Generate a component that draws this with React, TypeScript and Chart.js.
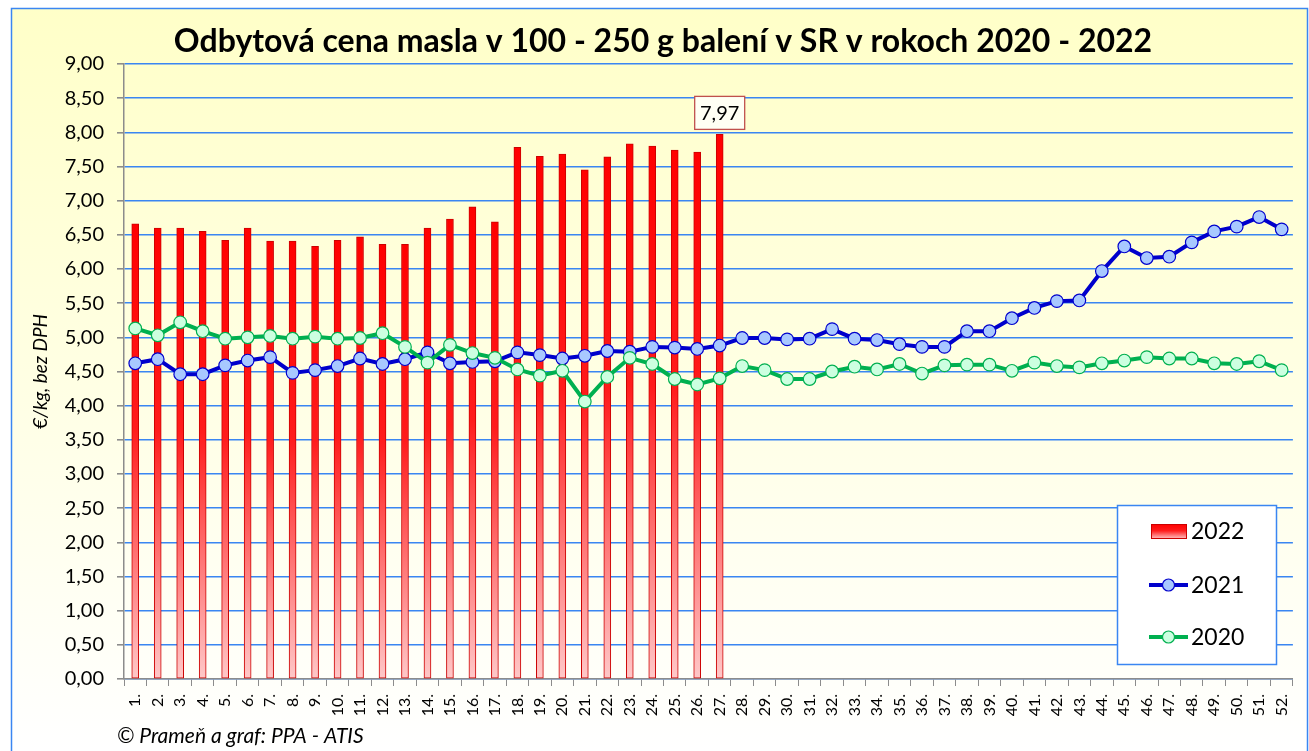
import React, { useEffect, useRef } from 'react';
import { Chart, registerables } from 'chart.js';

Chart.register(...registerables);

const TITLE = 'Odbytová cena masla v 100 - 250 g balení v SR v rokoch 2020 - 2022';
const Y_TITLE = '€/kg, bez DPH';
const FOOTER = '© Prameň a graf: PPA - ATIS';

const weeks = [
  '1.', '2.', '3.', '4.', '5.', '6.', '7.', '8.', '9.', '10.', '11.', '12.', '13.',
  '14.', '15.', '16.', '17.', '18.', '19.', '20.', '21.', '22.', '23.', '24.', '25.', '26.',
  '27.', '28.', '29.', '30.', '31.', '32.', '33.', '34.', '35.', '36.', '37.', '38.', '39.',
  '40.', '41.', '42.', '43.', '44.', '45.', '46.', '47.', '48.', '49.', '50.', '51.', '52.',
];

const prices2022 = [
  6.66, 6.6, 6.6, 6.55, 6.42, 6.6, 6.41, 6.41, 6.33, 6.42, 6.47, 6.36, 6.36,
  6.6, 6.73, 6.91, 6.69, 7.78, 7.65, 7.68, 7.45, 7.64, 7.83, 7.8, 7.74, 7.71, 7.97,
];

const prices2021 = [
  4.62, 4.68, 4.46, 4.46, 4.59, 4.66, 4.71, 4.48, 4.52, 4.58, 4.69, 4.61, 4.68,
  4.78, 4.62, 4.64, 4.65, 4.78, 4.74, 4.69, 4.73, 4.8, 4.79, 4.86, 4.85, 4.83, 4.88,
  4.99, 4.99, 4.97, 4.98, 5.12, 4.98, 4.96, 4.9, 4.86, 4.86, 5.09, 5.09, 5.28,
  5.43, 5.53, 5.54, 5.97, 6.33, 6.16, 6.18, 6.39, 6.55, 6.62, 6.76, 6.58,
];

const prices2020 = [
  5.13, 5.03, 5.22, 5.09, 4.98, 5.0, 5.02, 4.98, 5.01, 4.98, 4.99, 5.06, 4.86,
  4.63, 4.89, 4.77, 4.7, 4.53, 4.44, 4.51, 4.06, 4.42, 4.7, 4.61, 4.39, 4.31, 4.4,
  4.58, 4.52, 4.39, 4.39, 4.5, 4.57, 4.53, 4.61, 4.47, 4.59, 4.6, 4.6, 4.51,
  4.63, 4.58, 4.56, 4.62, 4.66, 4.71, 4.69, 4.69, 4.62, 4.61, 4.65, 4.52,
];

const seriesNames = ['2022', '2021', '2020'];
const highlightIndex = 26;

const FONT = 'Lato';
const GRID_BLUE = '#3a86f2';

const fmt = (v: number) => v.toFixed(2).replace('.', ',');

function barGradient(ctx: CanvasRenderingContext2D, top: number, bottom: number) {
  const g = ctx.createLinearGradient(0, top, 0, bottom);
  g.addColorStop(0, '#ff0000');
  g.addColorStop(0.45, '#ff1c1c');
  g.addColorStop(1, '#ffc8c8');
  return g;
}

const decorPlugin = {
  id: 'decor',
  beforeDraw(chart: any) {
    const { ctx, width, height } = chart;
    ctx.save();
    ctx.fillStyle = '#ffffff';
    ctx.fillRect(0, 0, width, height);
    const g = ctx.createLinearGradient(0, 8, 0, height);
    g.addColorStop(0, '#ffffc8');
    g.addColorStop(1, '#ffffff');
    ctx.fillStyle = g;
    ctx.fillRect(11, 8, width - 12, height);
    ctx.strokeStyle = GRID_BLUE;
    ctx.lineWidth = 1.5;
    ctx.strokeRect(11.5, 8.5, width - 13, height + 10);
    ctx.restore();
  },
  afterDraw(chart: any) {
    const { ctx } = chart;
    ctx.save();
    // title
    ctx.fillStyle = '#000';
    ctx.font = `bold 32px ${FONT}`;
    ctx.textAlign = 'center';
    ctx.textBaseline = 'alphabetic';
    ctx.fillText(TITLE, 663, 52);

    // footer
    ctx.font = `italic 21px ${FONT}`;
    ctx.textAlign = 'left';
    ctx.fillText(FOOTER, 117, 743);

    // data label for highlighted bar
    const meta = chart.getDatasetMeta(0);
    const el = meta.data[highlightIndex];
    if (el) {
      const bw = 50;
      const bh = 33;
      const bx = el.x - bw / 2;
      const by = el.y - 5 - bh;
      ctx.fillStyle = '#fffff4';
      ctx.fillRect(bx, by, bw, bh);
      ctx.strokeStyle = '#c0504d';
      ctx.lineWidth = 1.3;
      ctx.strokeRect(bx, by, bw, bh);
      ctx.fillStyle = '#000';
      ctx.font = `20px ${FONT}`;
      ctx.textAlign = 'center';
      ctx.textBaseline = 'middle';
      ctx.fillText(fmt(prices2022[highlightIndex]), el.x, by + bh / 2 + 1);
    }

    // legend
    const lx = 1117, ly = 505, lw = 159, lh = 159;
    ctx.fillStyle = '#ffffff';
    ctx.fillRect(lx, ly, lw, lh);
    ctx.strokeStyle = GRID_BLUE;
    ctx.lineWidth = 1.5;
    ctx.strokeRect(lx + 0.5, ly + 0.5, lw, lh);

    const rows = [531, 585, 637];
    ctx.fillStyle = barGradient(ctx, rows[0] - 7, rows[0] + 8);
    ctx.fillRect(1151, rows[0] - 7, 36, 15);
    ctx.strokeStyle = '#cc0000';
    ctx.lineWidth = 1;
    ctx.strokeRect(1151.5, rows[0] - 6.5, 35, 14);
    const lines = [
      { y: rows[1], c: '#0000cc', f: '#a8c8ff' },
      { y: rows[2], c: '#00b050', f: '#ccffe0' },
    ];
    lines.forEach((l) => {
      ctx.strokeStyle = l.c;
      ctx.lineWidth = 4;
      ctx.beginPath();
      ctx.moveTo(1149, l.y);
      ctx.lineTo(1188, l.y);
      ctx.stroke();
      ctx.beginPath();
      ctx.arc(1168.5, l.y, 6, 0, Math.PI * 2);
      ctx.fillStyle = l.f;
      ctx.fill();
      ctx.lineWidth = 1.2;
      ctx.stroke();
    });
    ctx.fillStyle = '#000';
    ctx.font = `23px ${FONT}`;
    ctx.textAlign = 'left';
    ctx.textBaseline = 'middle';
    seriesNames.forEach((n, i) => ctx.fillText(n, 1191, rows[i] + 1));
    ctx.restore();
  },
};

export default function App() {
  const ref = useRef<HTMLCanvasElement | null>(null);

  useEffect(() => {
    document.body.style.margin = '0';
    if (!ref.current) return;
    Chart.defaults.font.family = FONT;
    Chart.defaults.color = '#000';

    const chart = new Chart(ref.current, {
      type: 'bar',
      data: {
        labels: weeks,
        datasets: [
          {
            type: 'bar',
            label: seriesNames[0],
            data: prices2022,
            order: 3,
            barThickness: 7,
            borderWidth: 1,
            borderColor: '#cc0000',
            borderSkipped: false,
            backgroundColor: (c: any) => {
              const ch = c.chart;
              const ys = ch.scales?.y;
              if (!ys || c.raw == null) return '#ff2020';
              const top = ys.getPixelForValue(c.raw);
              const bottom = ys.getPixelForValue(0);
              if (!isFinite(top) || !isFinite(bottom) || top === bottom) return '#ff2020';
              return barGradient(ch.ctx, top, bottom);
            },
          } as any,
          {
            type: 'line',
            label: seriesNames[1],
            data: prices2021,
            order: 2,
            borderColor: '#0000cc',
            borderWidth: 4,
            pointRadius: 6.3,
            pointBackgroundColor: '#a8c8ff',
            pointBorderColor: '#0000cc',
            pointBorderWidth: 1.2,
            tension: 0,
            fill: false,
          },
          {
            type: 'line',
            label: seriesNames[2],
            data: prices2020,
            order: 1,
            borderColor: '#00b050',
            borderWidth: 4,
            pointRadius: 6.3,
            pointBackgroundColor: '#ccffe0',
            pointBorderColor: '#00b050',
            pointBorderWidth: 1.2,
            tension: 0,
            fill: false,
          },
        ],
      },
      options: {
        responsive: false,
        animation: false,
        events: [],
        layout: { padding: { top: 64, right: 15, left: 0, bottom: 0 } },
        plugins: {
          legend: { display: false },
          tooltip: { enabled: false },
          title: { display: false },
        },
        scales: {
          x: {
            offset: true,
            grid: {
              offset: true,
              drawOnChartArea: false,
              drawTicks: true,
              tickLength: 7,
              tickColor: '#8c8c8c',
            },
            border: { display: true, color: '#8c8c8c', width: 1.5 },
            ticks: {
              autoSkip: false,
              minRotation: 90,
              maxRotation: 90,
              padding: 8,
              font: { size: 16, family: FONT },
              color: '#000',
            },
            afterFit: (s: any) => {
              s.height = 72;
            },
          },
          y: {
            min: 0,
            max: 9,
            ticks: {
              stepSize: 0.5,
              padding: 13,
              font: { size: 20, family: FONT },
              color: '#000',
              callback: (v: any) => fmt(Number(v)),
            },
            grid: {
              color: GRID_BLUE,
              lineWidth: 1.6,
              tickLength: 7,
              tickColor: '#8c8c8c',
            },
            border: { display: true, color: '#8c8c8c', width: 1.5 },
            title: {
              display: true,
              text: Y_TITLE,
              font: { size: 19, style: 'italic', family: FONT },
              color: '#000',
              padding: { top: 29, bottom: 0 },
            },
            afterFit: (s: any) => {
              s.width = 124;
            },
          },
        },
      },
      plugins: [decorPlugin],
    } as any);

    return () => chart.destroy();
  }, []);

  return (
    <div style={{ width: 1309, height: 751 }}>
      <canvas ref={ref} width={1309} height={751} style={{ display: 'block' }} />
    </div>
  );
}
